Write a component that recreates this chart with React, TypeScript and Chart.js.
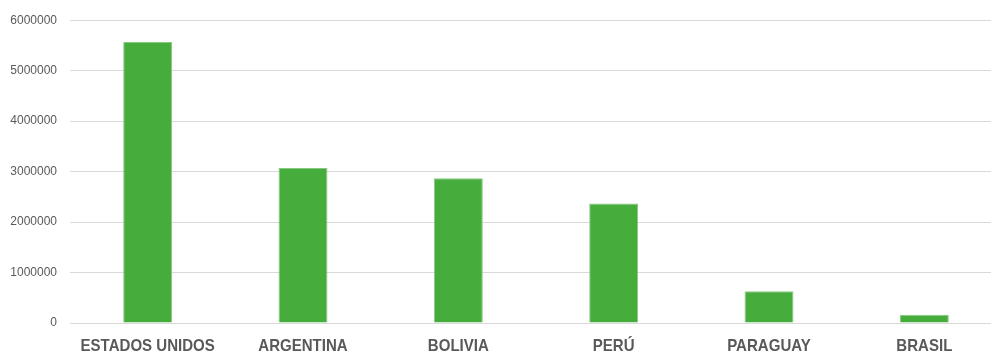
import React, { useEffect, useRef } from "react";
import { Chart, registerables } from "chart.js";

Chart.register(...registerables);

const categories = ["ESTADOS UNIDOS", "ARGENTINA", "BOLIVIA", "PERÚ", "PARAGUAY", "BRASIL"];
const values = [5570000, 3070000, 2870000, 2370000, 630000, 165000];
const yMin = 0;
const yMax = 6000000;
const yStep = 1000000;

const narrowLabels = {
  id: "narrowLabels",
  afterDraw(chart: any) {
    const ctx = chart.ctx;
    const xs = chart.scales.x;
    const y = chart.chartArea.bottom + 23;
    ctx.save();
    ctx.fillStyle = "#595959";
    ctx.font = "bold 17px 'Liberation Sans', Arial, sans-serif";
    ctx.textAlign = "center";
    ctx.textBaseline = "middle";
    categories.forEach((label, i) => {
      const x = xs.getPixelForTick(i);
      ctx.save();
      ctx.translate(x, y);
      ctx.scale(0.885, 1);
      ctx.fillText(label, 0, 0);
      ctx.restore();
    });
    ctx.restore();
  },
};

export default function App() {
  const ref = useRef<HTMLCanvasElement | null>(null);
  useEffect(() => {
    if (!ref.current) return;
    const chart = new Chart(ref.current, {
      type: "bar",
      data: {
        labels: categories,
        datasets: [
          {
            data: values,
            backgroundColor: "#46ac3c",
            borderColor: "#86c97f",
            borderWidth: 1,
            barPercentage: 0.315,
            categoryPercentage: 1,
          },
        ],
      },
      options: {
        responsive: false,
        animation: false,
        layout: { padding: { left: 10, top: 20, right: 1, bottom: 29 } },
        plugins: { legend: { display: false }, tooltip: { enabled: false } },
        scales: {
          x: {
            grid: { display: false, drawTicks: false },
            border: { display: false },
            ticks: { display: false },
          },
          y: {
            min: yMin,
            max: yMax,
            grid: { color: "#d9d9d9", lineWidth: 1, drawTicks: false },
            border: { display: false },
            afterFit: (s: any) => {
              s.width = 60;
            },
            ticks: {
              stepSize: yStep,
              padding: 13,
              color: "#595959",
              font: { family: "'Liberation Sans', Arial, sans-serif", size: 12 },
              callback: (v: any) => String(v),
            },
          },
        },
      },
      plugins: [narrowLabels],
    });
    return () => chart.destroy();
  }, []);
  return (
    <div style={{ position: "fixed", left: 0, top: 0, width: 991, height: 352, overflow: "hidden", background: "#fff" }}>
      <canvas ref={ref} width={1003} height={352} style={{ display: "block", width: 1003, height: 352 }} />
    </div>
  );
}
